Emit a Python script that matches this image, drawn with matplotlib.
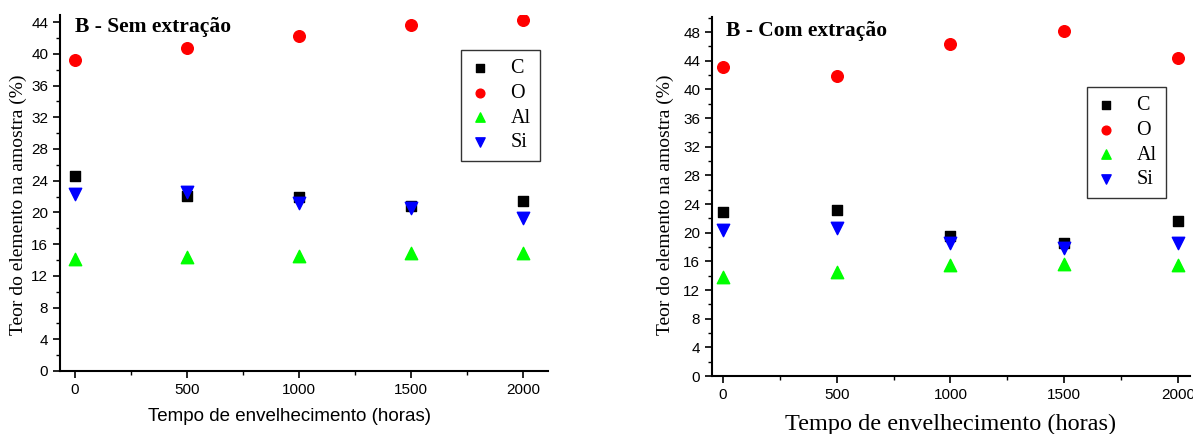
import matplotlib.pyplot as plt
from matplotlib.ticker import MultipleLocator

# tempo de envelhecimento (horas)
horas = [0, 500, 1000, 1500, 2000]

# B - Sem extração
sem_C = [24.6, 22.1, 22.0, 20.8, 21.5]
sem_O = [39.2, 40.8, 42.3, 43.7, 44.3]
sem_Al = [14.1, 14.4, 14.5, 14.9, 14.9]
sem_Si = [22.3, 22.6, 21.2, 20.6, 19.3]

# B - Com extração
com_C = [22.9, 23.1, 19.6, 18.5, 21.6]
com_O = [43.1, 41.9, 46.4, 48.1, 44.4]
com_Al = [13.8, 14.5, 15.5, 15.6, 15.5]
com_Si = [20.4, 20.7, 18.6, 17.8, 18.6]

serif = "Liberation Serif"
sans = "Liberation Sans"

fig = plt.figure(figsize=(11.93, 4.34), dpi=100)
W, H = 1193, 434


def painel(px, titulo, C, O, Al, Si, xlim, ylim, xlab, ylab_xy, leg_box, title_xy):
    l, t, r, b = px
    ax = fig.add_axes([l / W, 1 - b / H, (r - l) / W, (b - t) / H])
    ax.scatter(horas, C, marker="s", color="black", s=55, label="C", zorder=3)
    ax.scatter(horas, O, marker="o", color="#ff0000", s=70, label="O", zorder=3)
    ax.scatter(horas, Al, marker="^", color="#00ff00", s=80, label="Al", zorder=3)
    ax.scatter(horas, Si, marker="v", color="#0000ff", s=80, label="Si", zorder=3)
    ax.set_xlim(*xlim)
    ax.set_ylim(*ylim)
    ax.set_xticks(horas)
    ax.xaxis.set_minor_locator(MultipleLocator(250))
    ax.yaxis.set_major_locator(MultipleLocator(4))
    ax.yaxis.set_minor_locator(MultipleLocator(2))
    ax.spines["top"].set_visible(False)
    ax.spines["right"].set_visible(False)
    ax.spines["left"].set_linewidth(1.5)
    ax.spines["bottom"].set_linewidth(1.5)
    ax.tick_params(which="major", direction="out", length=5, width=1.2, labelsize=11)
    ax.tick_params(which="minor", direction="out", length=3, width=1.0)
    for lab in ax.get_xticklabels() + ax.get_yticklabels():
        lab.set_fontfamily(sans)
    ax.set_xlabel("Tempo de envelhecimento (horas)", fontsize=xlab[1], family=xlab[0])
    ax.xaxis.set_label_coords(xlab[2], xlab[3])
    ax.set_ylabel("Teor do elemento na amostra (%)", fontsize=14, family=serif)
    ax.yaxis.set_label_coords(*ylab_xy)
    ax.text(title_xy[0], title_xy[1], titulo, transform=ax.transAxes, fontsize=15.5,
            fontweight="bold", family=serif, va="center", ha="left")
    leg = ax.legend(loc="upper left", bbox_to_anchor=leg_box, borderaxespad=0, frameon=True,
                    fancybox=False, edgecolor="black", prop={"family": serif, "size": 14.5},
                    handletextpad=1.0, borderpad=0.45, labelspacing=0.28, handlelength=1.0,
                    markerscale=0.75)
    leg.get_frame().set_linewidth(1.0)
    return ax


ax1 = painel((60, 15, 548, 371), "B - Sem extração", sem_C, sem_O, sem_Al, sem_Si,
             (-67, 2112), (0, 44.9), (sans, 13.5, 0.47, -0.105), (-0.068, 0.466),
             ((461 - 60) / 488, 1 - (50 - 15) / 356), (0.03, 0.965))
ax2 = painel((712, 17, 1190, 376), "B - Com extração", com_C, com_O, com_Al, com_Si,
             (-48, 2053), (0, 50.1), (serif, 17.5, 0.5, -0.105), (-0.079, 0.476),
             ((1087 - 712) / 478, 1 - (87 - 17) / 359), (0.03, 0.96))

fig.savefig("out.png", dpi=100)
